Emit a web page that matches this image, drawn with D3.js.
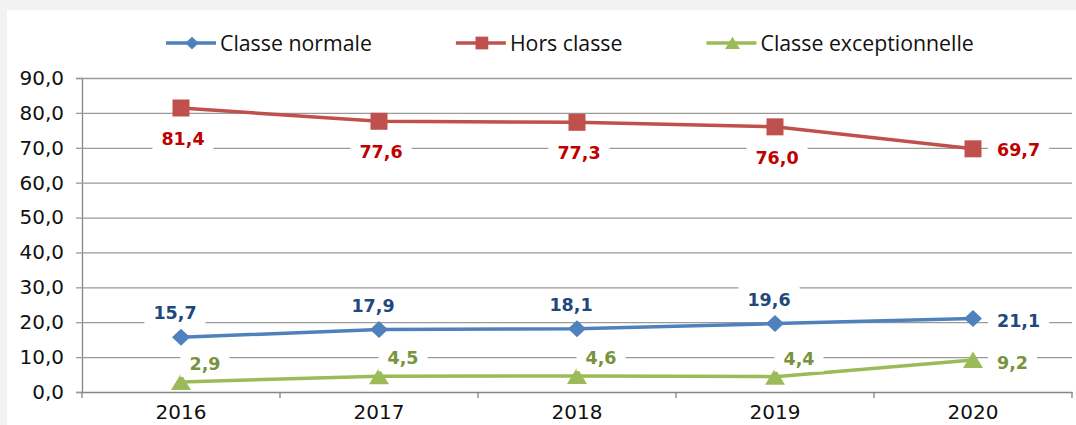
<!DOCTYPE html>
<html>
<head>
<meta charset="utf-8">
<script src="https://cdn.jsdelivr.net/npm/d3@7"></script>
<style>
  html, body { margin: 0; padding: 0; background: #f2f2f2; }
  svg { display: block; }
</style>
</head>
<body>
<svg id="chart" width="1076" height="425"></svg>
<script>
const years = ['2016', '2017', '2018', '2019', '2020'];
const classeNormale = [15.7, 17.9, 18.1, 19.6, 21.1];
const horsClasse = [81.4, 77.6, 77.3, 76.0, 69.7];
const classeExceptionnelle = [2.9, 4.5, 4.6, 4.4, 9.2];
const yTicks = [0, 10, 20, 30, 40, 50, 60, 70, 80, 90];

const series = [
  { name: 'Classe normale', values: classeNormale, color: '#4f81bd', label: '#1f497d', marker: 'diamond', dx: -6, dy: -24 },
  { name: 'Hors classe', values: horsClasse, color: '#c0504d', label: '#c00000', marker: 'square', dx: 2, dy: 31 },
  { name: 'Classe exceptionnelle', values: classeExceptionnelle, color: '#9bbb59', label: '#77933c', marker: 'triangle', dx: 24, dy: -18 },
];

const fr = d3.formatLocale({ decimal: ',', thousands: ' ', grouping: [3], currency: ['', '€'] });
const fmt = fr.format('.1f');

const svg = d3.select('#chart');
const margin = { top: 78, right: 4, bottom: 33, left: 82 };
const W = 1076, H = 425;

// white chart area
svg.append('rect').attr('x', 7).attr('y', 10).attr('width', W - 7).attr('height', H - 10).attr('fill', '#fff');

const x = d3.scaleBand().domain(years).range([margin.left, W - margin.right]).padding(0);
const y = d3.scaleLinear().domain([0, 90]).range([H - margin.bottom, margin.top]);
const cx = (d) => x(d) + x.bandwidth() / 2;

// gridlines + y axis
const yAxis = d3.axisLeft(y).tickValues(yTicks).tickSize(6).tickPadding(12).tickFormat(fmt);
const yg = svg.append('g').attr('transform', `translate(${margin.left},0)`).call(yAxis);
yg.select('.domain').attr('stroke', '#868686').attr('stroke-width', 1.3);
yg.selectAll('.tick line').attr('stroke', '#9a9a9a').attr('stroke-width', 1.3);
yg.selectAll('.tick')
  .filter((d) => d > 0)
  .append('line')
  .attr('x1', 0)
  .attr('x2', W - margin.right - margin.left)
  .attr('stroke', '#9a9a9a')
  .attr('stroke-width', 1.3);
yg.selectAll('.tick text')
  .attr('fill', '#111')
  .style('font-family', 'DejaVu Sans')
  .style('font-size', '20px');

// x axis
const xAxis = d3.axisBottom(x).tickSize(0).tickPadding(13);
const xg = svg.append('g').attr('transform', `translate(0,${y(0)})`).call(xAxis);
xg.select('.domain').attr('stroke', '#868686').attr('stroke-width', 1.3);
xg.selectAll('.tick text')
  .attr('fill', '#111')
  .style('font-family', 'DejaVu Sans')
  .style('font-size', '20px');
xg.selectAll('.bound')
  .data(years.map((d) => x(d)).concat([x.range()[1]]))
  .join('line')
  .attr('class', 'bound')
  .attr('x1', (d) => d)
  .attr('x2', (d) => d)
  .attr('y1', 0)
  .attr('y2', 6)
  .attr('stroke', '#868686')
  .attr('stroke-width', 1.3);

// markers
const markerPath = (type) => {
  if (type === 'diamond') return 'M0,-8.5L9,0L0,8.5L-9,0Z';
  if (type === 'square') return 'M-8.5,-8.5H8.5V8.5H-8.5Z';
  return 'M0,-8.5L10,8L-10,8Z';
};

const line = d3.line().x((d, i) => cx(years[i])).y((d) => y(d));

const plot = svg.append('g');
series.forEach((s) => {
  const g = plot.append('g');
  g.append('path')
    .datum(s.values)
    .attr('d', line)
    .attr('fill', 'none')
    .attr('stroke', s.color)
    .attr('stroke-width', 3.5);
  g.selectAll('.mk')
    .data(s.values)
    .join('path')
    .attr('class', 'mk')
    .attr('d', markerPath(s.marker))
    .attr('transform', (d, i) => `translate(${cx(years[i])},${y(d)})`)
    .attr('fill', s.color);
});

// data labels with white boxes
const labels = svg.append('g');
series.forEach((s) => {
  s.values.forEach((v, i) => {
    const last = i === s.values.length - 1;
    const g = labels.append('g');
    const t = g.append('text')
      .text(fmt(v))
      .attr('fill', s.label)
      .style('font-family', 'DejaVu Sans')
      .style('font-weight', 'bold')
      .style('font-size', '17.5px')
      .attr('dominant-baseline', 'central');
    if (last) {
      t.attr('x', cx(years[i]) + 24).attr('y', y(v) + (s.marker === 'square' ? 1 : 3)).attr('text-anchor', 'start');
    } else {
      t.attr('x', cx(years[i]) + s.dx).attr('y', y(v) + s.dy).attr('text-anchor', 'middle');
    }
    const b = t.node().getBBox();
    g.insert('rect', 'text')
      .attr('x', b.x - 9)
      .attr('y', b.y - 3)
      .attr('width', b.width + 18)
      .attr('height', b.height + 6)
      .attr('fill', '#fff');
  });
});

// legend
const legend = svg.append('g').attr('transform', 'translate(166,43)');
let lx = 0;
series.forEach((s) => {
  const g = legend.append('g').attr('transform', `translate(${lx},0)`);
  g.append('line').attr('x1', 0).attr('x2', 50).attr('stroke', s.color).attr('stroke-width', 3.5);
  g.append('path').attr('d', markerPath(s.marker)).attr('transform', 'translate(26,0) scale(0.75)').attr('fill', s.color);
  const t = g.append('text')
    .attr('x', 54)
    .attr('y', 7.5)
    .text(s.name)
    .attr('fill', '#111')
    .style('font-family', 'Open Sans')
    .style('font-size', '21.3px');
  lx += 54 + t.node().getComputedTextLength() + 84;
});
</script>
</body>
</html>
